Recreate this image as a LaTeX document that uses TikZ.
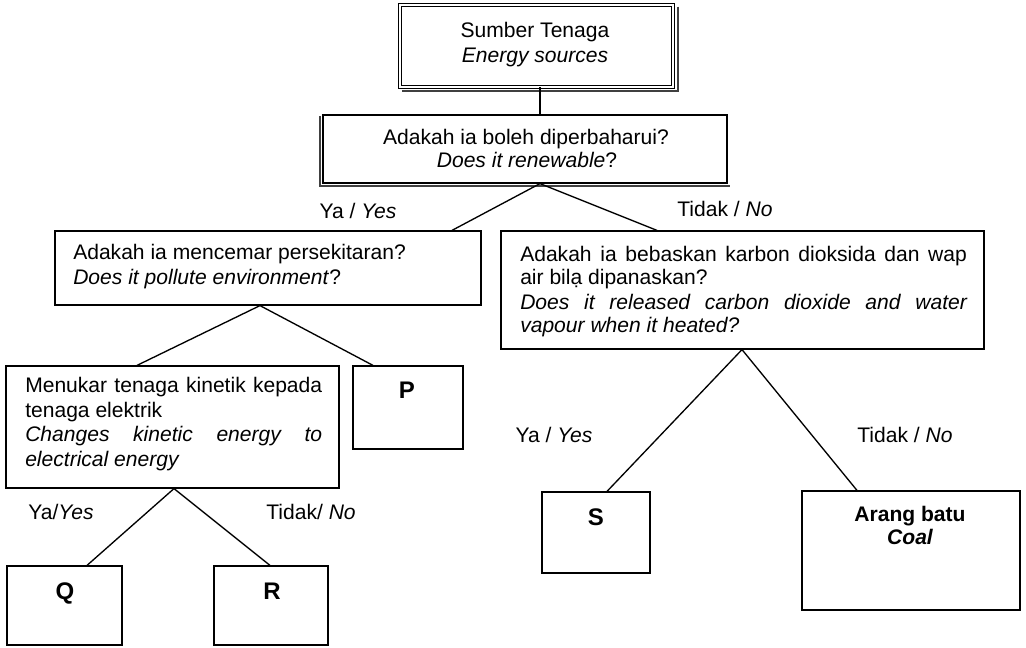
\documentclass[tikz,border=0pt]{standalone}
\usepackage{fontspec}
\setmainfont{Liberation Sans}
\usetikzlibrary{fit,calc}
\newcommand{\bodyfont}{\fontsize{15.8}{18.4}\selectfont}
\newcommand{\bigfont}{\fontsize{18}{20}\selectfont\bfseries}
\begin{document}
\begin{tikzpicture}[x=0.75pt,y=-0.75pt,
  box/.style={draw, line width=0.9pt, inner sep=0pt},
  conn/.style={draw, line width=1pt},
  shadowline/.style={draw=black!75, line width=1.6pt},
  txt/.style={anchor=base west, inner sep=0pt, font=\bodyfont},
  ctr/.style={anchor=base, inner sep=0pt, font=\bodyfont},
  letter/.style={anchor=base, inner sep=0pt, font=\bigfont}]
\useasboundingbox[fill=white] (0,0) rectangle (1026,648);

% boxes
\node[box, double, double distance=1.4pt, line width=0.6pt, fit={(400,5) (673,87)}] (T) {};
\node[box, fit={(323,115) (727,183)}] (R1) {};
\node[box, fit={(55,231) (481,305)}] (L1) {};
\node[box, fit={(501,231) (984,349)}] (R2) {};
\node[box, fit={(6,366) (339,488)}] (K) {};
\node[box, fit={(353,366) (463,449)}] (P) {};
\node[box, fit={(7,566) (122,645)}] (Q) {};
\node[box, fit={(214,566) (328,645)}] (Rb) {};
\node[box, fit={(542,492) (650,573)}] (S) {};
\node[box, fit={(802,491) (1020,610)}] (C) {};

% shadows
\draw[shadowline] ([shift={(5,2)}]T.north east) -- ([shift={(5,4)}]T.south east) -- ([shift={(2,4)}]T.south west);
\draw[shadowline] ([shift={(-2,2)}]R1.north west) -- ([shift={(-2,2)}]R1.south west) -- ([shift={(2,2)}]R1.south east);

% connectors
\draw[conn] (T.south -| 540,0) -- (R1.north -| 540,0);
\draw[conn] (R1.south -| 540,0) -- (L1.north -| 452,0);
\draw[conn] (R1.south -| 540,0) -- (R2.north -| 657,0);
\draw[conn] (L1.south -| 260,0) -- (K.north -| 137,0);
\draw[conn] (L1.south -| 260,0) -- (P.north -| 373,0);
\draw[conn] (K.south -| 174,0) -- (Q.north -| 87,0);
\draw[conn] (K.south -| 174,0) -- (Rb.north -| 270,0);
\draw[conn] (R2.south -| 742,0) -- (S.north -| 607,0);
\draw[conn] (R2.south -| 742,0) -- (C.north -| 857,0);

% texts
\node[ctr] (t1) at (535,38) {Sumber Tenaga};
\node[ctr] (t2) at (535,63) {\itshape Energy sources};
\node[ctr] (r1) at (526,145) {Adakah ia boleh diperbaharui?};
\node[ctr] (r2) at (527,168) {\textit{Does it renewable}?};
\node[txt] (l1) at (73,260) {Adakah ia mencemar persekitaran?};
\node[txt] (l2) at (73,285) {\textit{Does it pollute environment}?};
\node[txt] (c1) at (520,262) {\makebox[335pt][s]{Adakah ia bebaskan karbon dioksida dan wap}};
\node[txt] (c2) at (520,285) {air bil\d{a} dipanaskan?};
\node[txt] (c3) at (520,310) {\itshape\makebox[335pt][s]{Does it released carbon dioxide and water}};
\node[txt] (c4) at (520,333) {\itshape vapour when it heated?};
\node[txt] (k1) at (25,393) {\makebox[222.7pt][s]{Menukar tenaga kinetik kepada}};
\node[txt] (k2) at (25,418) {tenaga elektrik};
\node[txt] (k3) at (25,442) {\itshape\makebox[222.7pt][s]{Changes kinetic energy to}};
\node[txt] (k4) at (25,467) {\itshape electrical energy};
\node[letter] (pl) at (407,399) {P};
\node[letter] (ql) at (65,600) {Q};
\node[letter] (rl) at (272,600) {R};
\node[letter] (sl) at (596,526) {S};
\node[ctr, font=\bodyfont\bfseries] (co1) at (910,522) {Arang batu};
\node[ctr, font=\bodyfont\bfseries\itshape] (co2) at (910,545) {Coal};

% branch labels
\node[ctr] (y1) at (358,219) {Ya / \textit{Yes}};
\node[ctr] (n1) at (725,217) {Tidak / \textit{No}};
\node[ctr] (y2) at (554,443) {Ya / \textit{Yes}};
\node[ctr] (n2) at (905,443) {Tidak / \textit{No}};
\node[ctr] (y3) at (61,520) {Ya/\textit{Yes}};
\node[ctr] (n3) at (311,520) {Tidak/ \textit{No}};
\end{tikzpicture}
\end{document}
